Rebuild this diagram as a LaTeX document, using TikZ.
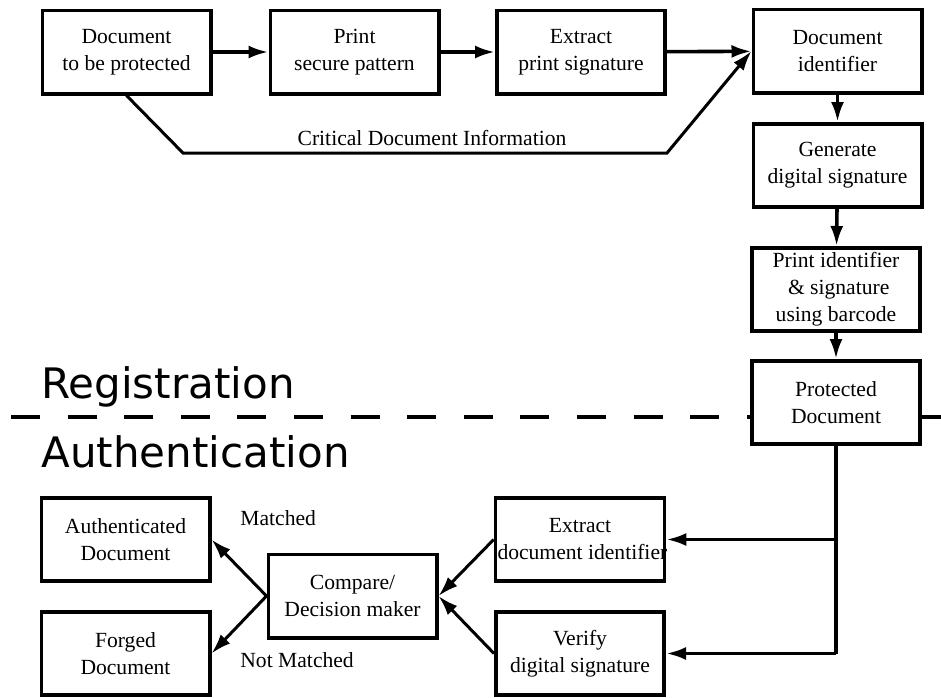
\documentclass[tikz,border=0pt]{standalone}
\usepackage{fontspec}
\setmainfont{Liberation Serif}
\newfontfamily\phasefont{DejaVu Sans}
\usepackage{tikz}
\usetikzlibrary{arrows.meta}
\tikzset{
  stage/.style={draw,line width=1.8pt,fill=white,minimum width=84.2pt,
    minimum height=41.7pt,inner sep=1pt,align=center,
    font=\fontsize{10.8}{13.5}\selectfont},
  flow/.style={line width=1.8pt,-{Latex[length=10pt,width=6.5pt]}},
  thinflow/.style={line width=1.5pt,-{Latex[length=10pt,width=6.5pt]}},
  note/.style={font=\fontsize{10.8}{13.5}\selectfont,inner sep=0pt},
  phase/.style={font=\phasefont\fontsize{21}{24}\selectfont,inner sep=0pt,anchor=base west},
  divider/.style={line width=2.2pt,dash pattern=on 14.5pt off 13.8pt}
}

\begin{document}
\begin{tikzpicture}[x=0.5pt,y=-0.5pt]
  \useasboundingbox (0,0) rectangle (941,697);

  % split between the two phases
  \coordinate (dashl) at (11,417);
  \coordinate (dashr) at (941,417);
  \draw[divider] (dashl) -- (dashr);

  \path
  (126.5,52) node[stage](doc) {Document\\to be protected}
  (354.5,52) node[stage](print) {Print\\secure pattern}
  (581,52) node[stage](extract) {Extract\\print signature}
  (837.5,51) node[stage](ident) {Document\\identifier}
  (837.5,165.5) node[stage](gensig) {Generate\\digital signature}
  (836,289.5) node[stage](barcode) {Print identifier\\\ \& signature\\using barcode}
  (836,402.5) node[stage](protected) {Protected\\Document}
  (125.5,539.5) node[stage](auth) {Authenticated\\Document}
  (125.5,653.5) node[stage](forged) {Forged\\Document}
  (352.5,596) node[stage](compare) {Compare/\\Decision maker}
  (580,539.5) node[stage](extractid) {Extract\\\makebox[82.5pt][l]{document identifier}}
  (580,653.5) node[stage](verify) {Verify\\digital signature}
  ;

  \node[phase] (reg) at (41,398) {Registration};
  \node[phase] (authen) at (41,467) {Authentication};

  % registration
  \draw[flow] (doc) -- (print);
  \draw[flow] (print) -- (extract);
  \draw[flow] (extract) -- (ident);
  \coordinate (cdi1) at (183,153);
  \coordinate (cdi2) at (667,153);
  \draw[thinflow] (doc.south) -- (cdi1) -- (cdi2) -- (ident.west);
  \node[note,anchor=base] (cdilabel) at (432,145) {Critical Document Information};
  \draw[flow] (ident) -- (gensig);
  \draw[flow] (gensig) -- (barcode);
  \draw[flow] (barcode) -- (protected);

  % authentication
  \coordinate (split1) at (836,539.5);
  \coordinate (split2) at (836,653.5);
  \draw[line width=1.8pt] (protected.south) -- (split2);
  \draw[flow] (split1) -- (extractid.east);
  \draw[flow] (split2) -- (verify.east);
  \draw[thinflow] (extractid.west) -- (compare.east);
  \draw[thinflow] (verify.west) -- (compare.east);
  \draw[thinflow] (compare.west) -- (auth.east);
  \draw[thinflow] (compare.west) -- (forged.east);
  \node[note,anchor=base west] (match) at (240,525) {Matched};
  \node[note,anchor=base west] (nomatch) at (240,667) {Not Matched};
\end{tikzpicture}
\end{document}
